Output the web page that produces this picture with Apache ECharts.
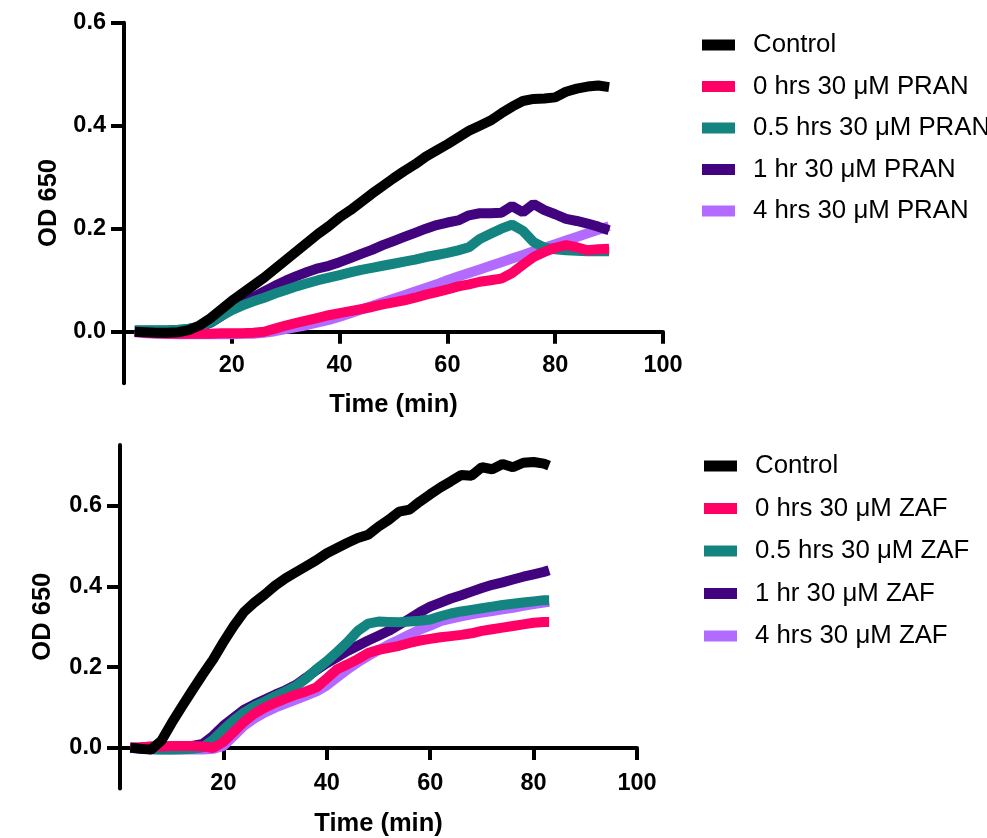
<!DOCTYPE html>
<html>
<head>
<meta charset="utf-8">
<script src="https://cdn.jsdelivr.net/npm/echarts@6/dist/echarts.min.js"></script>
<style>
  html, body { margin: 0; padding: 0; background: #fff; }
  #chart { width: 987px; height: 838px; }
</style>
</head>
<body>
<div id="chart"></div>
<script>
// PRAN panel (top)
const timePran = [2, 4, 6, 8, 10, 12, 14, 16, 18, 20, 22, 24, 26, 28, 30, 32, 34, 36, 38, 40, 42, 44, 46, 48, 50, 52, 54, 56, 58, 60, 62, 64, 66, 68, 70, 72, 74, 76, 78, 80, 82, 84, 86, 88, 90];
const pranControl = [0.0, -0.001, -0.002, -0.002, -0.001, 0.003, 0.012, 0.026, 0.043, 0.06, 0.075, 0.09, 0.105, 0.122, 0.139, 0.156, 0.173, 0.19, 0.205, 0.222, 0.236, 0.252, 0.268, 0.283, 0.298, 0.312, 0.325, 0.34, 0.352, 0.364, 0.377, 0.39, 0.4, 0.41, 0.424, 0.437, 0.448, 0.452, 0.453, 0.455, 0.466, 0.472, 0.476, 0.478, 0.475];
const pran0h = [0.0, -0.002, -0.003, -0.004, -0.004, -0.004, -0.004, -0.004, -0.003, -0.003, -0.003, -0.002, 0.0, 0.006, 0.012, 0.017, 0.022, 0.027, 0.032, 0.036, 0.04, 0.044, 0.048, 0.053, 0.057, 0.061, 0.066, 0.072, 0.077, 0.082, 0.088, 0.092, 0.097, 0.1, 0.103, 0.114, 0.13, 0.145, 0.155, 0.163, 0.168, 0.164, 0.158, 0.16, 0.161];
const pran05h = [0.003, 0.003, 0.003, 0.003, 0.004, 0.006, 0.01, 0.018, 0.03, 0.042, 0.051, 0.059, 0.066, 0.074, 0.081, 0.088, 0.094, 0.1, 0.105, 0.11, 0.115, 0.12, 0.124, 0.128, 0.132, 0.136, 0.14, 0.145, 0.149, 0.153, 0.158, 0.164, 0.18, 0.19, 0.2, 0.208, 0.196, 0.174, 0.163, 0.16, 0.158, 0.157, 0.156, 0.156, 0.156];
const pran1h = [0.002, 0.002, 0.002, 0.002, 0.003, 0.005, 0.009, 0.017, 0.03, 0.045, 0.056, 0.067, 0.078, 0.089, 0.099, 0.108, 0.116, 0.123, 0.128, 0.135, 0.143, 0.151, 0.159, 0.168, 0.176, 0.184, 0.192, 0.2, 0.207, 0.212, 0.216, 0.226, 0.23, 0.23, 0.231, 0.244, 0.232, 0.248, 0.236, 0.228, 0.219, 0.215, 0.21, 0.204, 0.197];
const pran4h = [-0.001, -0.003, -0.004, -0.004, -0.005, -0.005, -0.005, -0.005, -0.005, -0.005, -0.004, -0.004, -0.002, 0.001, 0.005, 0.009, 0.013, 0.018, 0.023, 0.029, 0.036, 0.043, 0.05, 0.057, 0.064, 0.071, 0.078, 0.085, 0.092, 0.1, 0.107, 0.114, 0.121, 0.128, 0.135, 0.142, 0.149, 0.156, 0.163, 0.17, 0.177, 0.184, 0.191, 0.198, 0.205];

// ZAF panel (bottom)
const timeZaf = [2, 4, 6, 8, 10, 12, 14, 16, 18, 20, 22, 24, 26, 28, 30, 32, 34, 36, 38, 40, 42, 44, 46, 48, 50, 52, 54, 56, 58, 60, 62, 64, 66, 68, 70, 72, 74, 76, 78, 80, 82, 83];
const zafControl = [0.001, -0.002, -0.004, 0.018, 0.062, 0.103, 0.143, 0.182, 0.219, 0.262, 0.302, 0.337, 0.36, 0.38, 0.402, 0.42, 0.435, 0.45, 0.465, 0.482, 0.495, 0.508, 0.52, 0.528, 0.548, 0.565, 0.585, 0.59, 0.61, 0.628, 0.645, 0.66, 0.676, 0.674, 0.695, 0.69, 0.703, 0.695, 0.706, 0.708, 0.704, 0.699];
const zaf0h = [0.001, 0.002, 0.004, 0.004, 0.005, 0.005, 0.005, 0.004, 0.0, 0.015, 0.04, 0.065, 0.085, 0.1, 0.112, 0.122, 0.132, 0.14, 0.15, 0.172, 0.195, 0.207, 0.22, 0.235, 0.243, 0.248, 0.253, 0.26, 0.266, 0.27, 0.274, 0.277, 0.28, 0.284, 0.29, 0.294, 0.298, 0.302, 0.306, 0.31, 0.312, 0.312];
const zaf05h = [0.001, -0.001, -0.003, -0.004, -0.004, -0.003, -0.002, 0.002, 0.02, 0.045, 0.068, 0.088, 0.103, 0.115, 0.128, 0.14, 0.153, 0.172, 0.195, 0.215, 0.238, 0.262, 0.29, 0.308, 0.313, 0.312, 0.311, 0.313, 0.315, 0.318, 0.326, 0.333, 0.338, 0.342, 0.346, 0.35, 0.354, 0.357, 0.36, 0.363, 0.366, 0.366];
const zaf1h = [0.0, 0.001, 0.003, 0.004, 0.004, 0.004, 0.005, 0.01, 0.03, 0.055, 0.075, 0.095, 0.108, 0.12, 0.132, 0.143, 0.156, 0.174, 0.193, 0.21, 0.225, 0.24, 0.253, 0.266, 0.278, 0.29, 0.305, 0.32, 0.336, 0.35, 0.36, 0.37, 0.378, 0.387, 0.396, 0.404, 0.41, 0.417, 0.424, 0.43, 0.436, 0.44];
const zaf4h = [0.0, -0.002, -0.003, -0.004, -0.004, -0.004, -0.004, -0.004, -0.002, 0.005, 0.03, 0.055, 0.073, 0.088, 0.1, 0.11, 0.12, 0.13, 0.14, 0.155, 0.175, 0.195, 0.212, 0.228, 0.242, 0.256, 0.268, 0.281, 0.293, 0.303, 0.314, 0.32, 0.326, 0.331, 0.335, 0.339, 0.343, 0.347, 0.352, 0.356, 0.36, 0.362];

const yTicks = [0, 0.2, 0.4, 0.6];
const xTicks = [20, 40, 60, 80, 100];

const colors = {
  control: '#000000',
  h0: '#FF0066',
  h05: '#138480',
  h1: '#42037F',
  h4: '#B36BFF',
};

const FONT = 'Liberation Sans, Arial, sans-serif';

const pairs = (xs, ys) => xs.map((x, i) => [x, ys[i]]);

const makeLine = (name, xs, ys, color, idx) => ({
  name,
  type: 'line',
  xAxisIndex: idx,
  yAxisIndex: idx,
  data: pairs(xs, ys),
  symbol: 'none',
  color,
  lineStyle: { width: 10, color },
  emphasis: { disabled: true },
  z: 2,
});

// x axis sits on y = 0, so shift it up from the grid bottom
const xAxisBase = (idx, offset, labelMargin, nameGap) => ({
  type: 'value',
  gridIndex: idx,
  min: 0,
  max: 100,
  interval: 20,
  offset,
  name: 'Time (min)',
  nameLocation: 'middle',
  nameGap,
  nameTextStyle: { fontFamily: FONT, fontWeight: 'bold', fontSize: 25.5, color: '#000' },
  axisLine: { onZero: false, lineStyle: { color: '#000', width: 4 } },
  axisTick: { show: true, length: 12, lineStyle: { width: 4, color: '#000' }, customValues: xTicks },
  axisLabel: { fontFamily: FONT, fontWeight: 'bold', fontSize: 23.5, color: '#000', margin: labelMargin, customValues: xTicks },
  splitLine: { show: false },
});

const yAxisBase = (idx, min, max, interval, gap) => ({
  type: 'value',
  gridIndex: idx,
  min,
  max,
  interval,
  name: 'OD 650',
  nameLocation: 'middle',
  nameRotate: 90,
  nameGap: gap,
  nameTextStyle: { fontFamily: FONT, fontWeight: 'bold', fontSize: 25.5, color: '#000' },
  axisLine: { show: true, onZero: false, lineStyle: { color: '#000', width: 4 } },
  axisTick: { show: true, length: 13, lineStyle: { width: 4, color: '#000' }, customValues: yTicks },
  axisLabel: {
    fontFamily: FONT, fontWeight: 'bold', fontSize: 23.5, color: '#000', margin: 18,
    customValues: yTicks,
    formatter: (v) => v.toFixed(1),
  },
  splitLine: { show: false },
});

const legendBase = (names, left, top, spacing) => ({
  orient: 'vertical',
  left,
  top,
  padding: 0,
  icon: 'rect',
  itemWidth: 33,
  itemHeight: 11,
  itemGap: spacing - 26,
  selectedMode: false,
  data: names,
  textStyle: { fontFamily: FONT, fontSize: 25.8, lineHeight: 24, color: '#000', padding: [0, 0, 0, 13] },
});

const chart = echarts.init(document.getElementById('chart'));

const option = {
  backgroundColor: '#fff',
  animation: false,
  grid: [
    { left: 124, top: 22.7, width: 539, height: 360.5 },
    { left: 120, top: 445, width: 517, height: 343.5 },
  ],
  xAxis: [xAxisBase(0, -51.5, 22, 60), xAxisBase(1, -40.4, 24, 63)],
  yAxis: [yAxisBase(0, -0.1, 0.6, 0.1, 56), yAxisBase(1, -0.1, 0.75, 0.05, 64)],
  legend: [
    legendBase(['Control', '0 hrs 30 μM PRAN', '0.5 hrs 30 μM PRAN', '1 hr 30 μM PRAN', '4 hrs 30 μM PRAN'], 702, 32, 41.5),
    legendBase(['Control', '0 hrs 30 μM ZAF', '0.5 hrs 30 μM ZAF', '1 hr 30 μM ZAF', '4 hrs 30 μM ZAF'], 704, 453, 42.5),
  ],
  series: [
    makeLine('4 hrs 30 μM PRAN', timePran, pran4h, colors.h4, 0),
    makeLine('1 hr 30 μM PRAN', timePran, pran1h, colors.h1, 0),
    makeLine('0.5 hrs 30 μM PRAN', timePran, pran05h, colors.h05, 0),
    makeLine('0 hrs 30 μM PRAN', timePran, pran0h, colors.h0, 0),
    makeLine('Control', timePran, pranControl, colors.control, 0),
    makeLine('4 hrs 30 μM ZAF', timeZaf, zaf4h, colors.h4, 1),
    makeLine('1 hr 30 μM ZAF', timeZaf, zaf1h, colors.h1, 1),
    makeLine('0.5 hrs 30 μM ZAF', timeZaf, zaf05h, colors.h05, 1),
    makeLine('0 hrs 30 μM ZAF', timeZaf, zaf0h, colors.h0, 1),
    makeLine('Control', timeZaf, zafControl, colors.control, 1),
  ],
};

chart.setOption(option);
</script>
</body>
</html>
